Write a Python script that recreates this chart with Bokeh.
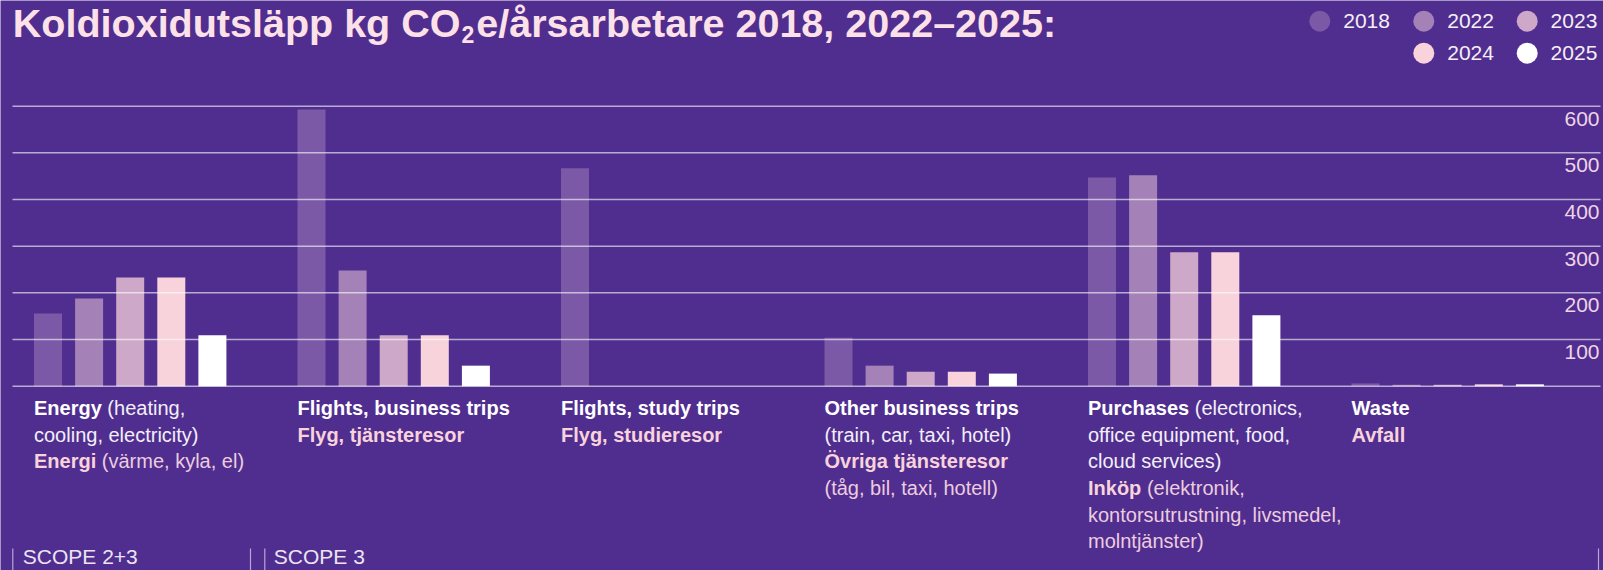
from bokeh.plotting import figure
from bokeh.models import ColumnDataSource
from bokeh.core.properties import value
from bokeh.embed import file_html
from bokeh.resources import INLINE

# ---------------- data ----------------
categories = ["Energy", "Flights, business trips", "Flights, study trips",
              "Other business trips", "Purchases", "Waste"]
years = ["2018", "2022", "2023", "2024", "2025"]
v2018 = [156, 593, 467, 104, 447, 6]
v2022 = [188, 248, 0, 44, 452, 3]
v2023 = [233, 109, 0, 31, 287, 3]
v2024 = [233, 109, 0, 31, 287, 4]
v2025 = [109, 44, 0, 27, 152, 4]
series = [v2018, v2022, v2023, v2024, v2025]
ticks = [100, 200, 300, 400, 500, 600]
year_colors = ["#7b59a6", "#a482b7", "#cea8c9", "#f8d3db", "#ffffff"]

title_parts = ["Koldioxidutsläpp kg CO", "2", "e/årsarbetare 2018, 2022–2025:"]

# category label lines: (text, style) ; styles: eb=English bold, e=English, sb=Swedish bold, s=Swedish
cat_labels = [
    [[("Energy", "eb"), ("(heating,", "e")],
     [("cooling, electricity)", "e")],
     [("Energi", "sb"), ("(värme, kyla, el)", "s")]],
    [[("Flights, business trips", "eb")],
     [("Flyg, tjänsteresor", "sb")]],
    [[("Flights, study trips", "eb")],
     [("Flyg, studieresor", "sb")]],
    [[("Other business trips", "eb")],
     [("(train, car, taxi, hotel)", "e")],
     [("Övriga tjänsteresor", "sb")],
     [("(tåg, bil, taxi, hotell)", "s")]],
    [[("Purchases", "eb"), ("(electronics,", "e")],
     [("office equipment, food,", "e")],
     [("cloud services)", "e")],
     [("Inköp", "sb"), ("(elektronik,", "s")],
     [("kontorsutrustning, livsmedel,", "s")],
     [("molntjänster)", "s")]],
    [[("Waste", "eb")],
     [("Avfall", "sb")]],
]
scope_labels = ["SCOPE 2+3", "SCOPE 3"]

# ---------------- style / layout ----------------
FONT = "Liberation Sans"
BG = "#502e8f"
STYLE_COL = {"eb": "#ffffff", "e": "#f3eef8", "sb": "#f8d3dc", "s": "#ecccdf"}
STYLE_W = {"eb": "bold", "e": "normal", "sb": "bold", "s": "normal"}

W, H = 1603, 570
PXU = 0.4667          # px per kg
ZERO = 385.7          # zero line, px from top of figure
GP = 263.5            # group pitch px
BP = 41.1             # bar pitch px
BW = 28.0             # bar width px
G0_LEFT = 33.5
x_lo = -(G0_LEFT + 2 * BP + BW / 2) / GP
x_hi = x_lo + W / GP
y_lo = -(H - ZERO) / PXU
y_hi = ZERO / PXU
BASE_K = 0.37         # renderer places alphabetic baseline ~0.37em low


def fx(px):
    return x_lo + px / GP


def fy(py):
    return (ZERO - py) / PXU


def fb(py, size):
    """data y for a text baseline wanted at pixel row py"""
    return fy(py - BASE_K * size)


R = {' ': 278, '(': 333, ')': 333, ',': 278, '-': 333, '.': 278, '/': 278, ':': 278, '+': 584, '–': 556,
     'A': 667, 'B': 667, 'C': 722, 'D': 722, 'E': 667, 'F': 611, 'G': 778, 'H': 722, 'I': 278, 'J': 500,
     'K': 667, 'L': 556, 'M': 833, 'N': 722, 'O': 778, 'P': 667, 'Q': 778, 'R': 722, 'S': 667, 'T': 611,
     'U': 722, 'V': 667, 'W': 944, 'X': 667, 'Y': 667, 'Z': 611, 'Ö': 778,
     'a': 556, 'b': 556, 'c': 500, 'd': 556, 'e': 556, 'f': 278, 'g': 556, 'h': 556, 'i': 222, 'j': 222,
     'k': 500, 'l': 222, 'm': 833, 'n': 556, 'o': 556, 'p': 556, 'q': 556, 'r': 333, 's': 500, 't': 278,
     'u': 556, 'v': 500, 'w': 722, 'x': 500, 'y': 500, 'z': 500, 'ä': 556, 'å': 556, 'ö': 556}
B = {' ': 278, '(': 333, ')': 333, ',': 278, ':': 333, '/': 278, '–': 556,
     'A': 722, 'B': 722, 'C': 722, 'D': 722, 'E': 667, 'F': 611, 'G': 778, 'H': 722, 'I': 278, 'K': 722,
     'L': 611, 'O': 778, 'P': 667, 'S': 667, 'W': 944, 'Ö': 778,
     'a': 556, 'b': 611, 'c': 556, 'd': 611, 'e': 556, 'f': 333, 'g': 611, 'h': 611, 'i': 278, 'j': 278,
     'k': 556, 'l': 278, 'm': 889, 'n': 611, 'o': 611, 'p': 611, 'r': 389, 's': 556, 't': 333, 'u': 611,
     'v': 556, 'w': 778, 'x': 556, 'y': 556, 'ä': 556, 'å': 556, 'ö': 611}


def tw(s, size, bold=False):
    t = B if bold else R
    return sum(t.get(c, 556) for c in s) * size / 1000.0


p = figure(width=W, height=H, x_range=(x_lo, x_hi), y_range=(y_lo, y_hi),
           output_backend="svg", toolbar_location=None, min_border=0,
           x_axis_location=None, y_axis_location=None,
           background_fill_color=BG, border_fill_color=BG, outline_line_color=None)
p.grid.visible = False

# bars
dodge = BP / GP
bw = BW / GP
for j, (yr, vals, col) in enumerate(zip(years, series, year_colors)):
    xs = [i + (j - 2) * dodge for i in range(len(categories))]
    src = ColumnDataSource(dict(x=xs, top=vals))
    p.vbar(x="x", top="top", bottom=0, width=bw, source=src, fill_color=col, line_color=None)

# gridlines (on top of bars)
gl = [0] + ticks
p.segment(x0=[fx(12)] * len(gl), y0=gl, x1=[fx(1600)] * len(gl), y1=gl,
          line_color="white", line_alpha=0.6, line_width=1.5)

# tick labels
TK = 21
p.text(x=[fx(1599)] * len(ticks), y=[t - (20.3 - BASE_K * TK) / PXU for t in ticks],
       text=[str(t) for t in ticks],
       text_align="right", text_baseline="alphabetic", text_font_size=f"{TK}px",
       text_color="#efd3e6", text_font=value(FONT))

# category labels
LS = 20
lx, ly, lt, lo, lc, ls = [], [], [], [], [], []
for i, lines in enumerate(cat_labels):
    left = i - 2 * dodge - bw / 2
    for k, segs in enumerate(lines):
        off = 0.0
        for txt, st in segs:
            lx.append(left)
            ly.append(fb(415 + 26.67 * k, LS))
            lt.append(txt)
            lo.append(off)
            lc.append(STYLE_COL[st])
            ls.append(STYLE_W[st])
            off += tw(txt + " ", LS, STYLE_W[st] == "bold")
lsrc = ColumnDataSource(dict(x=lx, y=ly, text=lt, xo=lo, tcol=lc, tstyle=ls))
p.text(x="x", y="y", text="text", x_offset="xo", text_color="tcol", text_font_style="tstyle",
       source=lsrc, text_font=value(FONT), text_font_size=f"{LS}px", text_baseline="alphabetic")

# title
TS = 39.5
SS = 23
tx = 12.3
tbase = 37
w0 = tw(title_parts[0], TS, True)
w1 = tw(title_parts[1], SS, True)
p.text(x=[fx(tx)], y=[fb(tbase, TS)], text=[title_parts[0]], text_font=value(FONT),
       text_font_size=f"{TS}px", text_font_style="bold", text_color="#fde1e8", text_baseline="alphabetic")
p.text(x=[fx(tx + w0 + 1)], y=[fb(tbase + 6, SS)], text=[title_parts[1]], text_font=value(FONT),
       text_font_size=f"{SS}px", text_font_style="bold", text_color="#fde1e8", text_baseline="alphabetic")
p.text(x=[fx(tx + w0 + w1 + 3)], y=[fb(tbase, TS)], text=[title_parts[2]], text_font=value(FONT),
       text_font_size=f"{TS}px", text_font_style="bold", text_color="#fde1e8", text_baseline="alphabetic")

# legend
LG = 21
leg_pos = [(1319.3, 20.7), (1423.3, 20.7), (1526.7, 20.7), (1423.3, 52.7), (1526.7, 52.7)]
p.scatter(x=[fx(a) for a, b in leg_pos], y=[fy(b) for a, b in leg_pos], size=21, marker="circle",
          fill_color=year_colors, line_color=None)
p.text(x=[fx(a + 23.4) for a, b in leg_pos], y=[fb(b + 7.6, LG) for a, b in leg_pos], text=years,
       text_font=value(FONT), text_font_size=f"{LG}px", text_color="#f5eef7", text_baseline="alphabetic")

# scope markers
SC = 21
sx = [12.3, 250, 264.3, 1598]
p.segment(x0=[fx(v) for v in sx], y0=[fy(548)] * 4, x1=[fx(v) for v in sx], y1=[fy(575)] * 4,
          line_color="#b8a4d6", line_width=1.2)
p.text(x=[fx(22.3), fx(273.3)], y=[fb(564, SC), fb(564, SC)], text=scope_labels, text_font=value(FONT),
       text_font_size=f"{SC}px", text_color="#ece4f2", text_baseline="alphabetic")

open("out.html", "w").write(file_html(p, INLINE))
